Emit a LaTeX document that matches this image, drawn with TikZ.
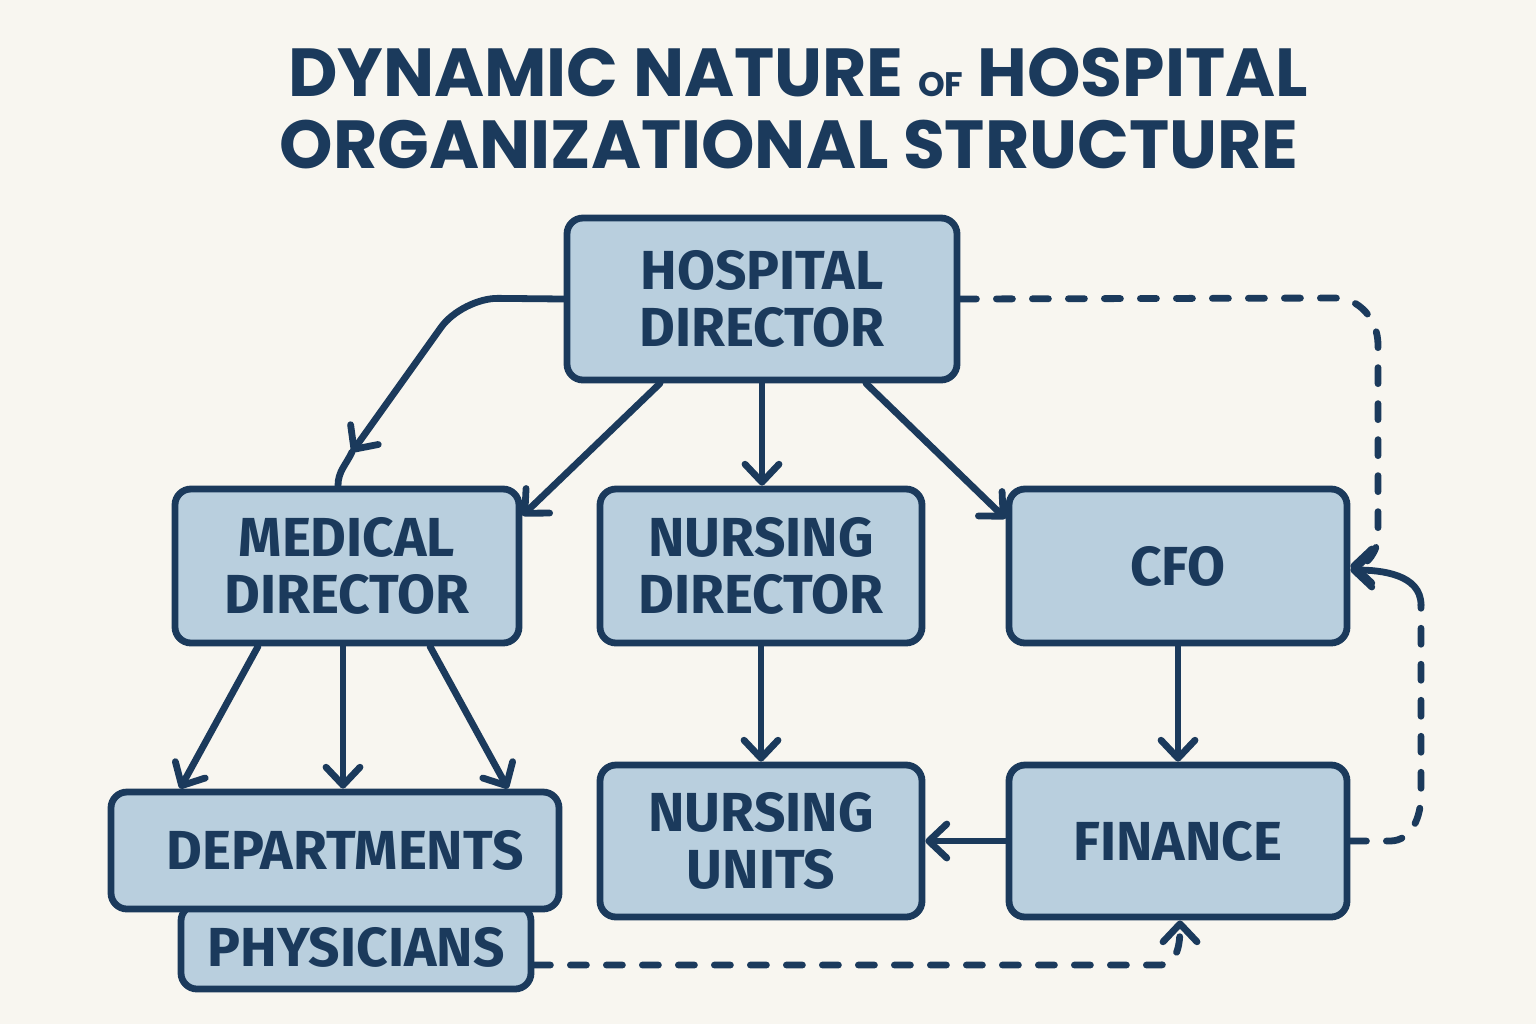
\documentclass[tikz,border=0pt]{standalone}
\usepackage{fontspec}
\setmainfont{Fira Sans}
\newfontfamily\titlefont{Poppins}[UprightFont=* Bold]
\newfontfamily\boxfont{Fira Sans}[UprightFont=* Bold]
\usetikzlibrary{arrows.meta}
\definecolor{navy}{HTML}{1B3A5C}
\definecolor{boxfill}{HTML}{B9CFDE}
\definecolor{bgc}{HTML}{F8F6F0}
\tikzset{
  box/.style={draw=navy, fill=boxfill, line width=3.4pt, rounded corners=8pt,
    align=center, text=navy, font=\boxfont\fontsize{27.5}{28.5}\selectfont, inner sep=0pt},
  conn/.style={draw=navy, line width=3.4pt, line cap=round, line join=round},
  arr/.style={conn, -{Straight Barb[length=9pt,width=17pt,line width=3.4pt,round]}},
  dashline/.style={dash pattern=on 8pt off 10pt},
  ttl/.style={text=navy, font=\titlefont\fontsize{34}{36}\selectfont, inner sep=0pt}
}
\begin{document}
\begin{tikzpicture}[x=0.5pt,y=-0.5pt]
\fill[bgc] (0,0) rectangle (1536,1024);
\useasboundingbox (0,0) rectangle (1536,1024);
% title
\node[ttl] (t1) at (798,73) {DYNAMIC NATURE {\fontsize{17}{18}\selectfont OF} HOSPITAL};
\node[ttl] (t2) at (789,145) {ORGANIZATIONAL STRUCTURE};
% boxes
\node[box, minimum width=195pt, minimum height=81pt] (hd) at (762,299) {HOSPITAL\\DIRECTOR};
\node[box, minimum width=172pt, minimum height=77pt] (md) at (347,566) {MEDICAL\\DIRECTOR};
\node[box, minimum width=161pt, minimum height=77pt] (nd) at (761,566) {NURSING\\DIRECTOR};
\node[box, minimum width=169pt, minimum height=77pt] (cfo) at (1178,566) {CFO};
\node[box, minimum width=175pt, minimum height=42pt] (phys) at (356,947) {PHYSICIANS};
\node[box, minimum width=224pt, minimum height=58.5pt] (dept) at (335,850.5) {\hspace*{10pt}DEPARTMENTS};
\node[box, minimum width=161pt, minimum height=76pt] (nu) at (761,841) {NURSING\\UNITS};
\node[box, minimum width=169pt, minimum height=76pt] (fin) at (1178,841) {FINANCE};
% connectors
\coordinate (a1) at (352,452);
\draw[arr, rounded corners=18pt] (hd.west) -- (462,298) -- (a1);
\draw[conn] (a1) to[out=-115,in=90] ([xshift=-4.5pt]md.north);
\draw[arr] ([xshift=-51pt]hd.south) -- ([yshift=-15pt]md.north east);
\draw[arr] (hd.south) -- (hd.south |- nd.north);
\draw[arr] ([xshift=52pt]hd.south) -- ([yshift=-16.5pt]cfo.north west);
\draw[arr] ([xshift=-44.5pt]md.south) -- ([xshift=-77.5pt]dept.north);
\draw[arr] ([xshift=-2pt]md.south) -- ([xshift=-2pt]md.south |- dept.north);
\draw[arr] ([xshift=41.5pt]md.south) -- ([xshift=86.5pt]dept.north);
\draw[arr] (nd.south) -- (nu.north);
\draw[arr] (cfo.south) -- (fin.north);
\draw[arr] (fin.west) -- (nu.east);
% dashed feedback loops
\draw[arr, dashline] (hd.east) -- (1335,298) to[out=0,in=90] (1378,345) -- (1378,535) to[out=-90,in=0] (cfo.east);
\coordinate (c1) at (1421,605);
\draw[conn, dashline] (fin.east) -- (1390,841) to[out=0,in=-90] (1421,795) -- (c1);
\draw[arr] (c1) to[out=90,in=0] ([yshift=-2pt]cfo.east);
\draw[arr, dashline] ([yshift=-9pt]phys.east) -- (1160,965) to[out=0,in=-90] ([xshift=1pt]fin.south);
\end{tikzpicture}
\end{document}
